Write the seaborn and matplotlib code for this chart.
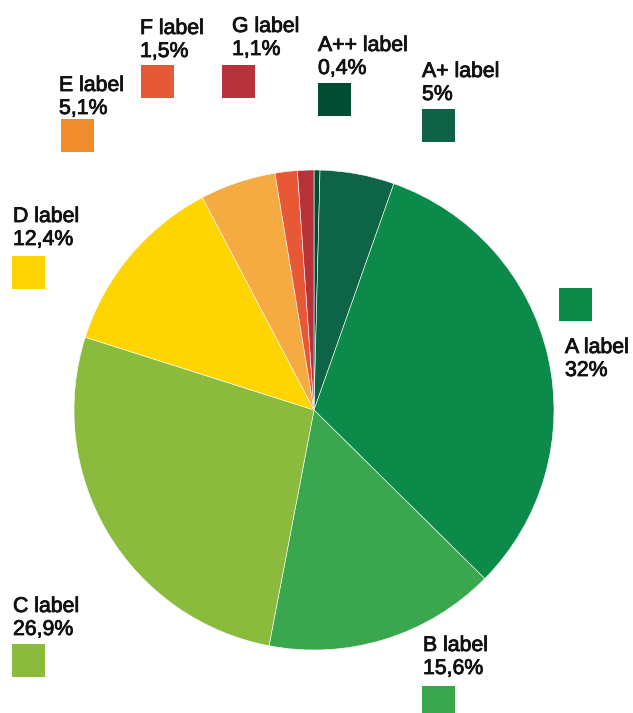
import matplotlib
matplotlib.use("Agg")
import matplotlib.pyplot as plt
import matplotlib.patheffects as pe
from matplotlib.patches import Rectangle
import seaborn as sns

sns.set_theme(style="white")
plt.rcParams["font.family"] = ["Liberation Sans", "DejaVu Sans"]

# data (clockwise from 12 o'clock)
labels = ["A++ label", "A+ label", "A label", "B label", "C label",
          "D label", "E label", "F label", "G label"]
shares = [0.4, 5, 32, 15.6, 26.9, 12.4, 5.1, 1.5, 1.1]
share_text = ["0,4%", "5%", "32%", "15,6%", "26,9%", "12,4%", "5,1%", "1,5%", "1,1%"]

slice_colors = ["#004d33", "#0d6446", "#0b8a4a", "#3aa74f", "#8bbb3c",
                "#fed500", "#f6ab42", "#e75837", "#b8323b"]
square_colors = ["#004d33", "#0f6246", "#0b8a4a", "#3aa74f", "#8bbb3c",
                 "#fed500", "#f08c2b", "#e75837", "#b8323b"]

W, H = 633, 713
# layout in pixels from top-left: (text x, first baseline), (square x, square top)
text_pos = [(318, 51), (422, 77), (565, 353), (423, 651), (13, 612),
            (13, 222), (59, 91), (140, 34), (232, 32)]
square_pos = [(318, 83), (422, 109), (559, 288), (422, 686), (12, 644),
              (12, 256), (61, 119), (141, 65), (222, 65)]
sq = 33
line_gap = 23

fig = plt.figure(figsize=(W / 100, H / 100), dpi=100)
ax = fig.add_axes([0, 0, 1, 1])

ax.pie(shares, colors=slice_colors, startangle=90, counterclock=False,
       center=(314, H - 410), radius=240,
       wedgeprops=dict(edgecolor="white", linewidth=0.4))

effects = [pe.withStroke(linewidth=0.6, foreground="#111111")]
for lab, pct, col, (tx, ty), (sx, sy) in zip(labels, share_text, square_colors,
                                             text_pos, square_pos):
    for k, line in enumerate([lab, pct]):
        ax.text(tx, H - ty - k * line_gap, line, ha="left", va="baseline",
                fontsize=15.3, color="#111111", path_effects=effects)
    ax.add_patch(Rectangle((sx, H - sy - sq), sq, sq, facecolor=col,
                           edgecolor="none"))

ax.set_xlim(0, W)
ax.set_ylim(0, H)
ax.set_aspect("auto")
ax.axis("off")

fig.savefig("out.png", dpi=100, facecolor="white")
